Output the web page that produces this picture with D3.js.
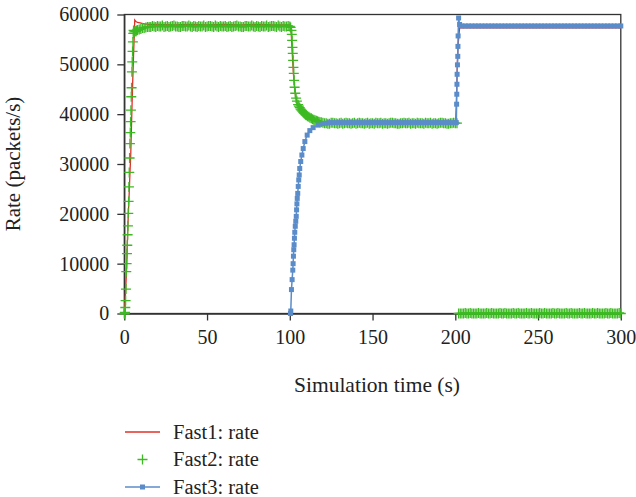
<!DOCTYPE html>
<html lang="en">
  <head>
    <meta charset="utf-8">
    <script src="https://d3js.org/d3.v7.min.js"></script>
    <style>
      body {margin: 0; background: white;}
      .axis path, .axis line {stroke: #333; stroke-width: 1.3;}
    </style>
  </head>
  <body>
    <script type="text/javascript">
      // tick values and legend names
      const xTicks = [0, 50, 100, 150, 200, 250, 300];
      const yTicks = [0, 10000, 20000, 30000, 40000, 50000, 60000];
      const seriesNames = ["Fast1: rate", "Fast2: rate", "Fast3: rate"];

      // Fast1 rate, [time (s), packets/s], drawn as a line
      const fast1 = [
        [0, 0], [0.5, 2500], [1, 6000], [1.45, 9500], [2.05, 16500], [2.5, 20500], [3, 24500],
        [3.45, 28500], [3.86, 31400], [4.4, 38500], [5.07, 46400], [5.6, 52000], [6.1, 56500],
        [6.3, 58900], [7, 58600], [8, 58400], [9.5, 58300], [12, 58100], [15, 58000], [20, 58000],
        [30, 57900], [40, 58000], [50, 57900], [60, 58000], [70, 57900], [80, 58000], [90, 57900],
        [100, 57900], [100.6, 57600], [101, 55400], [101.3, 53400], [101.7, 51000], [102.2, 48000],
        [102.8, 45600], [103.5, 43600], [104.5, 42000], [106, 41000], [108, 40000], [110, 39400],
        [113, 38900], [116, 38500], [120, 38300], [130, 38200], [140, 38200], [150, 38200],
        [160, 38200], [170, 38200], [180, 38200], [190, 38200], [200, 38200], [200.2, 38300],
        [200.6, 41800], [201.2, 50000], [201.7, 54000], [202.6, 57300], [210, 57300], [230, 57300],
        [250, 57300], [270, 57300], [290, 57300], [300, 57300]
      ];

      // Fast2 rate, drawn as + points
      const fast2 = [
        [0, 0], [0.2, 0], [0.4, 200], [0.6, 1200], [0.8, 2600], [1.0, 4900], [1.2, 8400],
        [1.4, 10000], [1.6, 12000], [1.8, 13700], [2.0, 15800], [2.2, 17600], [2.4, 20100],
        [2.6, 22500], [2.8, 25400], [3.0, 28300], [3.2, 31200], [3.4, 34100], [3.6, 36300],
        [3.8, 38500], [4.0, 40800], [4.2, 43500], [4.4, 45300], [4.6, 48500], [4.8, 50500],
        [5.0, 52600], [5.2, 54500], [5.4, 56200], [5.6, 56800], [6, 56500], [6.5, 56700],
        [7, 56600], [7.5, 56800], [8, 56900], [9, 57000], [10, 57100], [11, 57300], [12, 57300],
        [13, 57400],
        [14, 57500], [15, 57500], [16, 57500], [17, 57700], [18, 57600], [19, 57500], [20, 57700],
        [21, 57600], [22, 57600], [23, 57800], [24, 57500], [25, 57600], [26, 57700], [27, 57500],
        [28, 57600], [29, 57700], [30, 57800], [31, 57600], [32, 57600], [33, 57500], [34, 57500],
        [35, 57700], [36, 57700], [37, 57600], [38, 57600], [39, 57800], [40, 57600], [41, 57500],
        [42, 57700], [43, 57600], [44, 57500], [45, 57700], [46, 57600], [47, 57600], [48, 57800],
        [49, 57500], [50, 57600], [51, 57700], [52, 57700], [53, 57600], [54, 57500], [55, 57800],
        [56, 57600], [57, 57500], [58, 57700], [59, 57600], [60, 57600], [61, 57700], [62, 57500],
        [63, 57600], [64, 57700], [65, 57500], [66, 57600], [67, 57700], [68, 57800], [69, 57600],
        [70, 57600], [71, 57500], [72, 57500], [73, 57700], [74, 57700], [75, 57600], [76, 57600],
        [77, 57800], [78, 57600], [79, 57500], [80, 57700], [81, 57600], [82, 57500], [83, 57700],
        [84, 57600], [85, 57600], [86, 57800], [87, 57500], [88, 57600], [89, 57700], [90, 57700],
        [91, 57600], [92, 57500], [93, 57800], [94, 57600], [95, 57500], [96, 57700], [97, 57600],
        [98, 57600], [99, 57700], [100, 57600],
        [100.5, 57400], [101, 56800], [101.2, 56000], [101.4, 54800], [101.6, 53400], [101.8, 52200],
        [102.0, 50800], [102.2, 49400], [102.4, 48200], [102.6, 46800], [102.9, 45400],
        [103.3, 44200], [103.8, 43200], [104.3, 42600], [105, 41900], [105.5, 41600], [106, 41300],
        [106.5, 41000], [107, 40800], [107.5, 40600], [108, 40400], [108.5, 40200], [109, 40100],
        [109.5, 39900], [110, 39800], [110.7, 39600], [111.5, 39500], [112.2, 39300], [113, 39200],
        [113.7, 39000], [114.5, 38900], [115.2, 38800], [116, 38700], [116.7, 38600],
        [117.5, 38500], [118.2, 38400], [119, 38400], [120, 38300],
        [121, 38200], [122, 38200], [123, 38100], [124, 38100], [125, 38300], [126, 38300],
        [127, 38200], [128, 38200], [129, 38100], [130, 38200], [131, 38300], [132, 38100],
        [133, 38200], [134, 38300], [135, 38200], [136, 38200], [137, 38100], [138, 38200],
        [139, 38300], [140, 38100], [141, 38200], [142, 38300], [143, 38200], [144, 38200],
        [145, 38100], [146, 38200], [147, 38300], [148, 38100], [149, 38200], [150, 38200],
        [151, 38100], [152, 38300], [153, 38200], [154, 38200], [155, 38300], [156, 38100],
        [157, 38200], [158, 38200], [159, 38100], [160, 38200], [161, 38300], [162, 38300],
        [163, 38200], [164, 38200], [165, 38100], [166, 38100], [167, 38200], [168, 38200],
        [169, 38300], [170, 38200], [171, 38200], [172, 38300], [173, 38100], [174, 38200],
        [175, 38200], [176, 38100], [177, 38300], [178, 38200], [179, 38200], [180, 38200],
        [181, 38100], [182, 38300], [183, 38200], [184, 38200], [185, 38300], [186, 38100],
        [187, 38200], [188, 38200], [189, 38100], [190, 38200], [191, 38300], [192, 38300],
        [193, 38200], [194, 38200], [195, 38100], [196, 38100], [197, 38200], [198, 38200],
        [199, 38300], [200, 38200], [201, 38200],
        [202, 0], [203, 0], [204, 0], [205, 0], [206, 100], [207, 0], [208, 0], [209, 100],
        [210, 0], [211, 0], [212, 0], [213, 0], [214, 100], [215, 0], [216, 0], [217, 0],
        [218, 0], [219, 100], [220, 0], [221, 0], [222, 100], [223, 0], [224, 0], [225, 0],
        [226, 0], [227, 100], [228, 0], [229, 0], [230, 100], [231, 0], [232, 0], [233, 0],
        [234, 0], [235, 100], [236, 0], [237, 0], [238, 100], [239, 0], [240, 0], [241, 0],
        [242, 0], [243, 100], [244, 0], [245, 0], [246, 100], [247, 0], [248, 0], [249, 0],
        [250, 0], [251, 100], [252, 0], [253, 0], [254, 100], [255, 0], [256, 0], [257, 0],
        [258, 0], [259, 100], [260, 0], [261, 0], [262, 100], [263, 0], [264, 0], [265, 0],
        [266, 0], [267, 100], [268, 0], [269, 0], [270, 100], [271, 0], [272, 0], [273, 0],
        [274, 0], [275, 100], [276, 0], [277, 0], [278, 100], [279, 0], [280, 0], [281, 0],
        [282, 0], [283, 100], [284, 0], [285, 0], [286, 100], [287, 0], [288, 0], [289, 0],
        [290, 0], [291, 100], [292, 0], [293, 0], [294, 100], [295, 0], [296, 0], [297, 0],
        [298, 0], [299, 100], [300, 0]
      ];

      // Fast3 rate, drawn as a line with square points
      const fast3 = [
        [100.4, 0], [100.6, 500], [101.0, 4800], [101.4, 6800], [101.8, 8700], [102.0, 10000],
        [102.2, 11500], [102.4, 12800], [102.6, 13800], [102.8, 15100], [103.0, 16300],
        [103.3, 17500], [103.6, 18500], [103.9, 19500], [104.1, 20800], [104.3, 22000],
        [104.5, 23100], [104.8, 24100], [105.1, 25500], [105.4, 26800], [105.7, 27800],
        [106.0, 29100], [106.6, 30500], [107.3, 31800], [108.1, 33100], [109.1, 34500],
        [110.5, 35800], [112.1, 36700], [114.1, 37300], [117.1, 37800], [120, 38100], [122, 38200],
        [124, 38300], [126, 38300], [128, 38300], [130, 38300], [132, 38300], [134, 38300],
        [136, 38300], [138, 38300], [140, 38300], [142, 38300], [144, 38300], [146, 38300],
        [148, 38300], [150, 38300], [152, 38300], [154, 38300], [156, 38300], [158, 38300],
        [160, 38300], [162, 38300], [164, 38300], [166, 38300], [168, 38300], [170, 38300],
        [172, 38300], [174, 38300], [176, 38300], [178, 38300], [180, 38300], [182, 38300],
        [184, 38300], [186, 38300], [188, 38300], [190, 38300], [192, 38300], [194, 38300],
        [196, 38300], [198, 38300], [200, 38300], [200.6, 38300],
        [200.8, 42000], [200.9, 44000], [201.0, 46000], [201.1, 48000], [201.3, 49900],
        [201.5, 51600], [201.6, 53600], [201.7, 55700], [202.0, 59300], [202.6, 58000],
        [204, 57700], [206, 57700], [208, 57700], [210, 57700], [212, 57700], [214, 57700],
        [216, 57700], [218, 57700], [220, 57700], [222, 57700], [224, 57700], [226, 57700],
        [228, 57700], [230, 57700], [232, 57700], [234, 57700], [236, 57700], [238, 57700],
        [240, 57700], [242, 57700], [244, 57700], [246, 57700], [248, 57700], [250, 57700],
        [252, 57700], [254, 57700], [256, 57700], [258, 57700], [260, 57700], [262, 57700],
        [264, 57700], [266, 57700], [268, 57700], [270, 57700], [272, 57700], [274, 57700],
        [276, 57700], [278, 57700], [280, 57700], [282, 57700], [284, 57700], [286, 57700],
        [288, 57700], [290, 57700], [292, 57700], [294, 57700], [296, 57700], [298, 57700],
        [300, 57700]
      ];

      const w = 636;
      const h = 497;
      const red = "#e0302a";
      const green = "#3cba22";
      const blue = "#5b8cca";

      const svg = d3.select("body")
        .append("svg")
        .attr("width", w)
        .attr("height", h);

      const x = d3.scaleLinear().domain([0, 300]).range([124.3, 620.8]);
      const y = d3.scaleLinear().domain([0, 60000]).range([313.5, 14.5]);

      // sets serif text styling on a selection
      function serif(sel, size) {
        sel.attr("font-family", null)
          .style("font-family", "'Liberation Serif'")
          .style("font-size", size + "px")
          .attr("fill", "#222");
      }

      // frame round the plot
      svg.append("rect")
        .attr("x", x(0))
        .attr("y", y(60000))
        .attr("width", x(300) - x(0))
        .attr("height", y(0) - y(60000))
        .attr("fill", "none")
        .attr("stroke", "#333")
        .attr("stroke-width", 1.3);

      // axes
      const xAxis = svg.append("g")
        .attr("class", "axis")
        .attr("transform", "translate(0," + y(0) + ")")
        .call(d3.axisBottom(x).tickValues(xTicks).tickSize(7).tickSizeOuter(0).tickPadding(9));
      const yAxis = svg.append("g")
        .attr("class", "axis")
        .attr("transform", "translate(" + x(0) + ",0)")
        .call(d3.axisLeft(y).tickValues(yTicks).tickFormat(d3.format("d")).tickSize(7).tickSizeOuter(0).tickPadding(8));
      xAxis.attr("font-family", null).attr("font-size", null);
      yAxis.attr("font-family", null).attr("font-size", null);
      serif(svg.selectAll(".axis text"), 20);

      // axis titles
      svg.append("text")
        .attr("x", 377)
        .attr("y", 392)
        .attr("text-anchor", "middle")
        .text("Simulation time (s)")
        .call(serif, 21.5);
      svg.append("text")
        .attr("transform", "translate(20," + ((y(0) + y(60000)) / 2) + ") rotate(-90)")
        .attr("text-anchor", "middle")
        .text("Rate (packets/s)")
        .call(serif, 21);

      const line = d3.line()
        .x(function(d) { return x(d[0]); })
        .y(function(d) { return y(d[1]); });

      const plus = "M-5,0H5M0,-5V5";

      // Fast1
      svg.append("path")
        .datum(fast1)
        .attr("d", line)
        .attr("fill", "none")
        .attr("stroke", red)
        .attr("stroke-width", 1.3);

      // Fast2
      svg.append("g").selectAll("path")
        .data(fast2)
        .enter()
        .append("path")
        .attr("transform", function(d) { return "translate(" + x(d[0]) + "," + y(d[1]) + ")"; })
        .attr("d", plus)
        .attr("stroke", green)
        .attr("stroke-width", 1.3);

      // Fast3
      svg.append("path")
        .datum(fast3)
        .attr("d", line)
        .attr("fill", "none")
        .attr("stroke", blue)
        .attr("stroke-width", 1.5);
      svg.append("g").selectAll("rect")
        .data(fast3)
        .enter()
        .append("rect")
        .attr("x", function(d) { return x(d[0]) - 2.5; })
        .attr("y", function(d) { return y(d[1]) - 2.5; })
        .attr("width", 5)
        .attr("height", 5)
        .attr("fill", blue);

      // legend
      const legendY = [432, 459.5, 487];
      const legend = svg.append("g");
      legend.append("line")
        .attr("x1", 125).attr("x2", 160)
        .attr("y1", legendY[0]).attr("y2", legendY[0])
        .attr("stroke", red).attr("stroke-width", 1.3);
      legend.append("path")
        .attr("transform", "translate(142.5," + legendY[1] + ")")
        .attr("d", plus)
        .attr("stroke", green).attr("stroke-width", 1.3);
      legend.append("line")
        .attr("x1", 125).attr("x2", 160)
        .attr("y1", legendY[2]).attr("y2", legendY[2])
        .attr("stroke", blue).attr("stroke-width", 1.5);
      legend.append("rect")
        .attr("x", 140).attr("y", legendY[2] - 2.5)
        .attr("width", 5).attr("height", 5)
        .attr("fill", blue);
      legend.selectAll("text")
        .data(seriesNames)
        .enter()
        .append("text")
        .attr("x", 173)
        .attr("y", function(d, i) { return legendY[i]; })
        .attr("dy", "0.32em")
        .text(function(d) { return d; })
        .call(serif, 20.5);
    </script>
  </body>
</html>
